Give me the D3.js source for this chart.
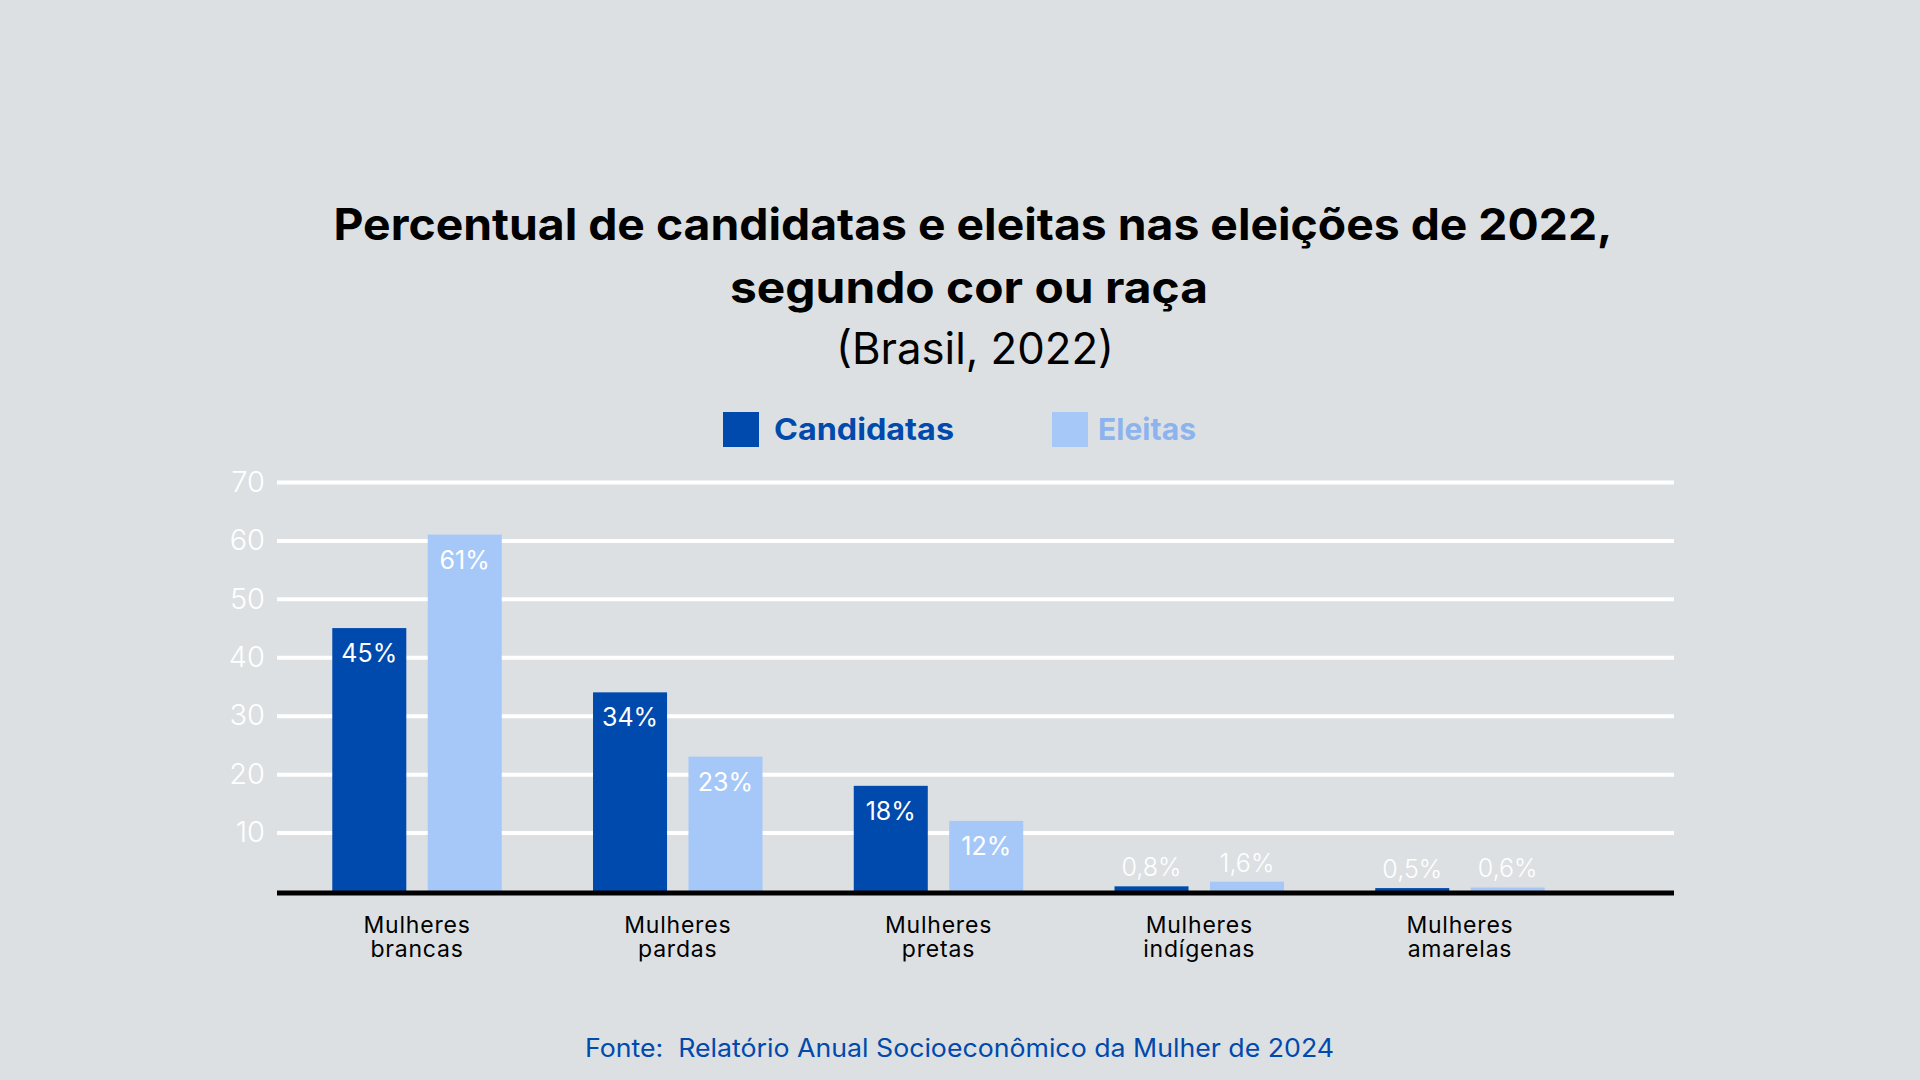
<!DOCTYPE html>
<html>
<head>
<meta charset="utf-8">
<script src="https://cdn.jsdelivr.net/npm/d3@7"></script>
<style>
  html, body { margin: 0; padding: 0; background: #DDE0E3; }
  svg { display: block; }
</style>
</head>
<body>
<svg id="chart" width="1920" height="1080"></svg>
<script>
// ---- data ----
const categories = [["Mulheres", "brancas"], ["Mulheres", "pardas"], ["Mulheres", "pretas"], ["Mulheres", "indígenas"], ["Mulheres", "amarelas"]];
const seriesNames = ["Candidatas", "Eleitas"];
const candidatas = [45, 34, 18, 0.8, 0.5];
const eleitas = [61, 23, 12, 1.6, 0.6];
const candidatasLabels = ["45%", "34%", "18%", "0,8%", "0,5%"];
const eleitasLabels = ["61%", "23%", "12%", "1,6%", "0,6%"];
const yTicks = [10, 20, 30, 40, 50, 60, 70];

const titleLines = ["Percentual de candidatas e eleitas nas eleições de 2022,", "segundo cor ou raça"];
const subtitle = "(Brasil, 2022)";
const source = "Fonte:  Relatório Anual Socioeconômico da Mulher de 2024";

// ---- layout ----
const W = 1920, H = 1080;
const gridLeft = 277, gridRight = 1674;
const baseY = 891, topY = 482;
const colors = { Candidatas: "#004AAD", Eleitas: "#A6C8F8" };
const legendTextColors = { Candidatas: "#004AAD", Eleitas: "#8CB3EE" };
const FONT = "Inter, 'Noto Sans', sans-serif";

const svg = d3.select("#chart");
svg.append("rect").attr("width", W).attr("height", H).attr("fill", "#DDE0E3");

const y = d3.scaleLinear().domain([0, 70]).range([baseY, topY]);
const x0 = d3.scaleBand().domain(d3.range(categories.length)).range([277, 1600]).paddingInner(0.35).paddingOuter(0.212);
const x1 = d3.scaleBand().domain(seriesNames).range([0, x0.bandwidth()]).paddingInner(0.2245).paddingOuter(0);

// title
const title = svg.append("g").attr("font-family", FONT).attr("text-anchor", "middle").attr("fill", "#000");
title.append("text").attr("x", 973).attr("y", 240).attr("font-size", 44).attr("font-weight", 700)
  .attr("textLength", 1279).attr("lengthAdjust", "spacingAndGlyphs").text(titleLines[0]);
title.append("text").attr("x", 969).attr("y", 303).attr("font-size", 44).attr("font-weight", 700)
  .attr("textLength", 478).attr("lengthAdjust", "spacingAndGlyphs").text(titleLines[1]);
title.append("text").attr("x", 975).attr("y", 364).attr("font-size", 44).attr("font-weight", 400)
  .attr("textLength", 278).attr("lengthAdjust", "spacingAndGlyphs").text(subtitle);

// legend
const legendItems = [
  { name: "Candidatas", sx: 723, tx: 774, tw: 180 },
  { name: "Eleitas", sx: 1052, tx: 1098, tw: 98 }
];
const lg = svg.append("g");
legendItems.forEach(d => {
  lg.append("rect").attr("x", d.sx).attr("y", 412).attr("width", 36).attr("height", 35).attr("fill", colors[d.name]);
  lg.append("text").attr("x", d.tx).attr("y", 440).attr("font-family", FONT).attr("font-weight", 700)
    .attr("font-size", 30).attr("fill", legendTextColors[d.name])
    .attr("textLength", d.tw).attr("lengthAdjust", "spacingAndGlyphs").text(d.name);
});

// gridlines
const yAxis = d3.axisLeft(y).tickValues(yTicks).tickSize(-(gridRight - gridLeft)).tickPadding(12).tickFormat(d3.format("d"));
const gy = svg.append("g").attr("transform", `translate(${gridLeft},0)`).call(yAxis);
gy.select(".domain").remove();
gy.selectAll(".tick line").attr("stroke", "#FFFFFF").attr("stroke-width", 4);
gy.selectAll(".tick text").attr("font-family", FONT).attr("font-weight", 300).attr("font-size", 29)
  .attr("fill", "#FFFFFF").attr("x", -12);

// bars
const rows = categories.map((c, i) => ({
  i,
  values: [
    { key: "Candidatas", v: candidatas[i], label: candidatasLabels[i] },
    { key: "Eleitas", v: eleitas[i], label: eleitasLabels[i] }
  ]
}));
const groups = svg.append("g").selectAll("g").data(rows).join("g")
  .attr("transform", d => `translate(${x0(d.i)},0)`);
groups.selectAll("rect").data(d => d.values).join("rect")
  .attr("x", d => x1(d.key))
  .attr("width", x1.bandwidth())
  .attr("y", d => y(d.v))
  .attr("height", d => baseY - y(d.v))
  .attr("fill", d => colors[d.key]);
groups.selectAll("text.val").data(d => d.values).join("text")
  .attr("class", "val")
  .attr("x", d => x1(d.key) + x1.bandwidth() / 2)
  .attr("y", d => d.v >= 5 ? y(d.v) + 34 : y(d.v) - 10)
  .attr("text-anchor", "middle")
  .attr("font-family", FONT)
  .attr("font-size", 25)
  .attr("font-weight", d => d.v >= 5 ? 400 : 300)
  .attr("fill", "#FFFFFF")
  .text(d => d.label);

// baseline
svg.append("line").attr("x1", gridLeft).attr("x2", gridRight).attr("y1", baseY + 2).attr("y2", baseY + 2)
  .attr("stroke", "#000").attr("stroke-width", 5);

// x labels
const xl = svg.append("g").selectAll("text").data(categories).join("text")
  .attr("x", (d, i) => x0(i) + x0.bandwidth() / 2)
  .attr("y", 933)
  .attr("text-anchor", "middle")
  .attr("font-family", FONT)
  .attr("font-size", 23)
  .attr("letter-spacing", 0.8)
  .attr("fill", "#000");
xl.each(function(d) {
  const t = d3.select(this);
  d.forEach((line, k) => {
    t.append("tspan").attr("x", t.attr("x")).attr("dy", k === 0 ? 0 : 24).text(line);
  });
});

// source
svg.append("text").attr("x", 959.5).attr("y", 1057).attr("text-anchor", "middle")
  .attr("font-family", FONT).attr("font-size", 25).attr("font-weight", 400).attr("fill", "#004AAD")
  .style("white-space", "pre")
  .attr("textLength", 749).attr("lengthAdjust", "spacingAndGlyphs")
  .text(source);
</script>
</body>
</html>
